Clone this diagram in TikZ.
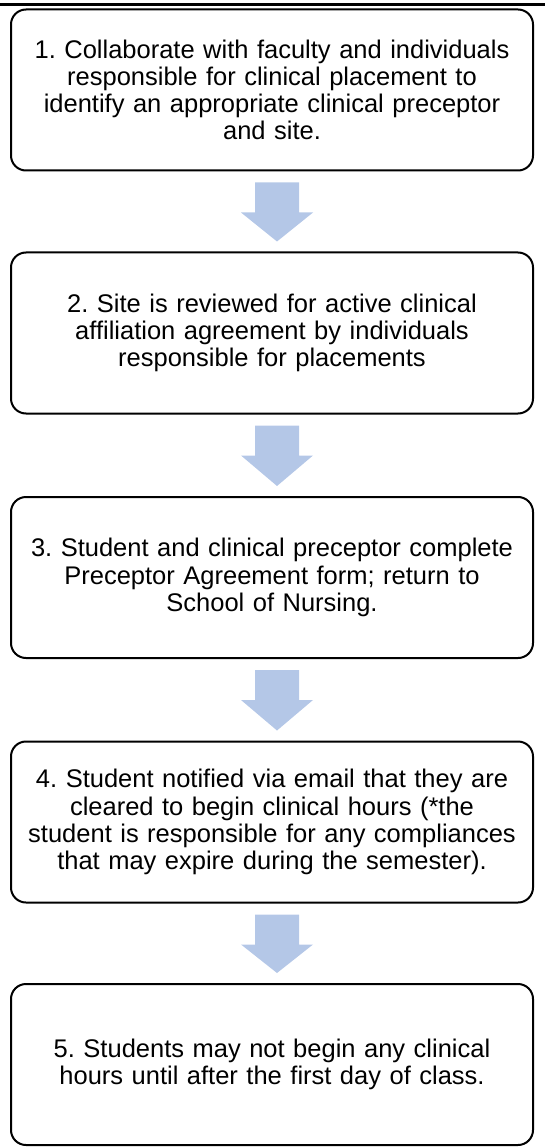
\documentclass[tikz,border=0pt]{standalone}
\usepackage{fontspec}
\setmainfont{Liberation Sans}
\usetikzlibrary{calc}
\definecolor{arrowblue}{RGB}{180,199,231}
\tikzset{
  stepbox/.style={draw=black, line width=2pt, rounded corners=15pt,
    minimum width=522pt, minimum height=161pt, text width=515pt, align=center,
    font=\fontsize{25.5}{27.2}\selectfont\frenchspacing, inner sep=0pt},
  blockarrow/.style={fill=arrowblue, draw=none}
}
\begin{document}
\begin{tikzpicture}[x=1pt,y=-1pt]
\useasboundingbox (0,0) rectangle (545,1147);
\draw[line width=3pt] (0,4.5) -- (545,4.5);
\node[stepbox] (b1) at (272,90) {1. Collaborate with faculty and individuals\\responsible for clinical placement to\\identify an appropriate clinical preceptor\\and site.};
\node[stepbox] (b2) at (272,333) {2. Site is reviewed for active clinical\\affiliation agreement by individuals\\responsible for placements};
\node[stepbox] (b3) at (272,577.5) {3. Student and clinical preceptor complete\\Preceptor Agreement form; return to\\School of Nursing.};
\node[stepbox] (b4) at (272,822) {4. Student notified via email that they are\\cleared to begin clinical hours (*the\\student is responsible for any compliances\\that may expire during the semester).};
\node[stepbox] (b5) at (272,1064.5) {5. Students may not begin any clinical\\hours until after the first day of class.};
\foreach \a/\b in {b1/b2,b2/b3,b3/b4,b4/b5}{
  \coordinate (s) at ($(\a.south)+(5,11)$);
  \coordinate (t) at ($(\b.north)+(5,-10)$);
  \fill[blockarrow] ($(s)+(-22,0)$) -- ($(s)+(22,0)$) -- ($(s)+(22,30)$) -- ($(s)+(36,30)$) -- (t) -- ($(s)+(-36,30)$) -- ($(s)+(-22,30)$) -- cycle;
}
\end{tikzpicture}
\end{document}
